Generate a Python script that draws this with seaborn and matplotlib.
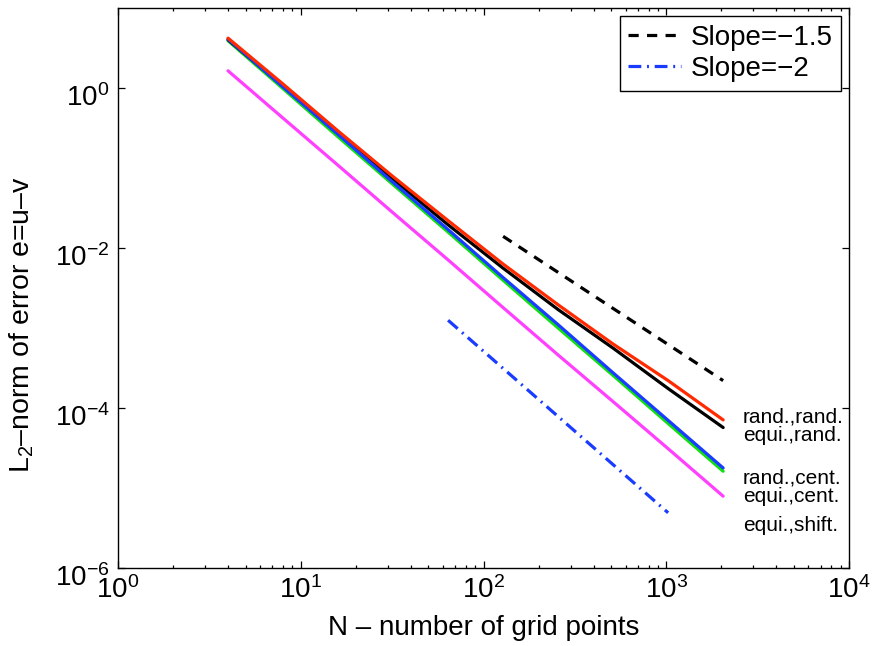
import numpy as np
import pandas as pd
import matplotlib
matplotlib.use("Agg")
import matplotlib.pyplot as plt
import matplotlib.transforms as mtransforms
import seaborn as sns
from matplotlib.ticker import LogLocator, NullLocator, FixedLocator, LogFormatterSciNotation

# ---- data ----
N = [4, 8, 16, 32, 64, 128, 256, 512, 1024, 2048]
err_rand_rand = [4.2, 1.12, 0.29, 0.078, 0.022, 6.3e-3, 1.95e-3, 6.3e-4, 2.2e-4, 7.1e-5]
err_equi_rand = [4.0, 1.05, 0.27, 0.072, 0.0195, 5.6e-3, 1.7e-3, 5.6e-4, 1.75e-4, 5.7e-5]
err_rand_cent = [4.07, 1.03, 0.263, 0.066, 0.017, 4.27e-3, 1.1e-3, 2.75e-4, 7.0e-5, 1.78e-5]
err_equi_cent = [3.9, 0.98, 0.245, 0.062, 0.0158, 3.95e-3, 1.0e-3, 2.55e-4, 6.4e-5, 1.62e-5]
err_equi_shift = [1.64, 0.42, 0.108, 0.0275, 0.0071, 1.8e-3, 4.6e-4, 1.2e-4, 3.1e-5, 7.9e-6]

slope15_N = [128, 2048]
slope15_y = [0.014, 2.2e-4]
slope2_N = [64, 1024]
slope2_y = [1.25e-3, 4.9e-6]

x_ticks = [1, 10, 100, 1000, 10000]
y_ticks = [1e-6, 1e-4, 1e-2, 1]

legend_labels = ["Slope=\u22121.5", "Slope=\u22122"]
curve_labels = ["rand.,rand.", "equi.,rand.", "rand.,cent.", "equi.,cent.", "equi.,shift."]
xlabel = "N \u2013 number of grid points"
ylabel = "L$_2$\u2013norm of error e=u\u2013v"

# ---- style ----
sns.set_theme(style="white")
plt.rcParams["font.family"] = ["Liberation Sans", "DejaVu Sans"]
plt.rcParams["mathtext.fontset"] = "custom"
plt.rcParams["mathtext.rm"] = "Liberation Sans"
plt.rcParams["mathtext.it"] = "Liberation Sans:italic"
plt.rcParams["mathtext.bf"] = "Liberation Sans:bold"
plt.rcParams["axes.unicode_minus"] = True
for k in ["text.color", "axes.labelcolor", "xtick.color", "ytick.color", "axes.edgecolor"]:
    plt.rcParams[k] = "black"

fig = plt.figure(figsize=(8.72, 6.46), dpi=100)
ax = fig.add_axes([118 / 872, 1 - 568 / 646, (849 - 118) / 872, (568 - 8) / 646])
ax.set_xscale("log")
ax.set_yscale("log")

lw = 2.3
series = [
    (err_equi_shift, "#ff40ff"),
    (err_equi_cent, "#10e010"),
    (err_equi_rand, "#000000"),
    (err_rand_cent, "#1a3cff"),
    (err_rand_rand, "#ff2a00"),
]
for vals, col in series:
    sns.lineplot(x=N, y=vals, ax=ax, color=col, linewidth=lw, legend=False)

l1, = ax.plot(slope15_N, slope15_y, color="black", linewidth=lw, dashes=(3.2, 2.6))
l2, = ax.plot(slope2_N, slope2_y, color="#1a3cff", linewidth=lw, dashes=(4.0, 1.8, 0.6, 1.8))

ax.set_xlim(1, 1e4)
ax.set_ylim(1e-6, 10)

ax.xaxis.set_major_locator(FixedLocator(x_ticks))
ax.xaxis.set_major_formatter(LogFormatterSciNotation())
ax.xaxis.set_minor_locator(LogLocator(base=10, subs=np.arange(2, 10), numticks=20))
ax.yaxis.set_major_locator(FixedLocator(y_ticks))
ax.yaxis.set_major_formatter(LogFormatterSciNotation())
ax.yaxis.set_minor_locator(NullLocator())

ax.tick_params(which="both", direction="in", top=True, right=True, bottom=True, left=True,
               width=0.9, color="black", labelsize=20, labelcolor="black")
ax.tick_params(which="major", length=5)
ax.tick_params(which="minor", length=2.5)
ax.tick_params(axis="x", which="major", pad=6)
ax.tick_params(axis="y", which="major", pad=6)
for s in ax.spines.values():
    s.set_color("black")
    s.set_linewidth(1.0)

fig.canvas.draw()
offset = mtransforms.ScaledTranslation(0, -5 / 72, fig.dpi_scale_trans)
for lab in ax.get_yticklabels():
    lab.set_transform(lab.get_transform() + offset)

ax.set_xlabel(xlabel, fontsize=20)
ax.set_ylabel(ylabel, fontsize=20.5)
ax.xaxis.label.set_va("center")
ax.yaxis.label.set_va("center")
ax.xaxis.set_label_coords(0.5, -0.107)
ax.yaxis.set_label_coords(-0.131, 0.435)

leg = ax.legend([l1, l2], legend_labels, loc="upper right", fontsize=20, frameon=True,
                fancybox=False, edgecolor="black", framealpha=1, handlelength=1.9,
                borderpad=0.3, labelspacing=0.2, handletextpad=0.35, borderaxespad=0.3)
leg.get_frame().set_linewidth(1.0)

label_x = 2630
label_y = [7.7e-5, 4.5e-5, 1.33e-5, 7.9e-6, 3.4e-6]
for txt, yv in zip(curve_labels, label_y):
    ax.text(label_x, yv, txt, fontsize=15, ha="left", va="center", color="black")

fig.savefig("out.png", dpi=100)
